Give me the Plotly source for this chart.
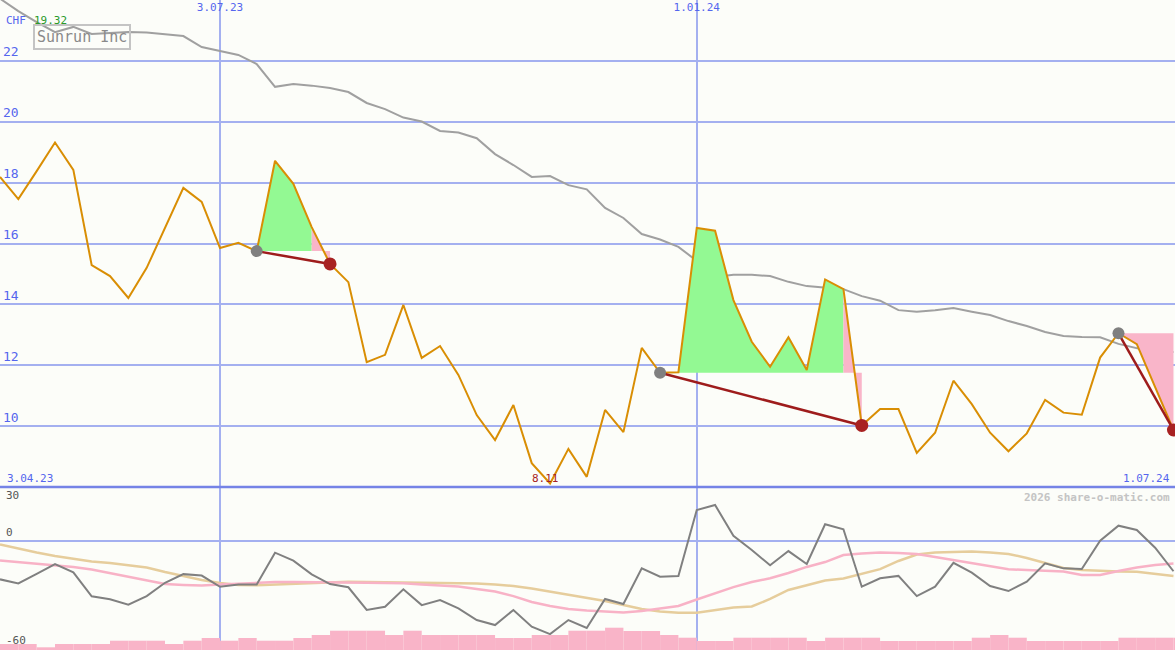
import pandas as pd
import plotly.graph_objects as go

# ---------------- data ----------------
start_date = "2023-04-10"
n_weeks = 65
dates = pd.date_range(start_date, periods=n_weeks, freq="7D")

price = [18.19, 17.46, 18.38, 19.32, 18.42, 15.29, 14.93, 14.21, 15.20, 16.54,
         17.83, 17.37, 15.85, 16.02, 15.75, 18.72, 17.96, 16.54, 15.33, 14.73,
         12.10, 12.34, 13.98, 12.24, 12.63, 11.68, 10.36, 9.54, 10.69, 8.78,
         8.11, 9.25, 8.33, 10.53, 9.80, 12.57, 11.75, 11.77, 16.51, 16.42,
         14.14, 12.77, 11.95, 12.92, 11.84, 14.82, 14.50, 10.02, 10.56, 10.56,
         9.12, 9.78, 11.49, 10.72, 9.78, 9.17, 9.76, 10.86, 10.44, 10.37,
         12.25, 13.05, 12.69, 11.28, 9.87]

moving_avg = [24.05, 23.64, 23.28, 22.95, 23.12, 22.89, 22.92, 22.95, 22.94, 22.87,
              22.82, 22.46, 22.33, 22.20, 21.90, 21.15, 21.24, 21.19, 21.11, 20.98,
              20.62, 20.42, 20.14, 20.01, 19.70, 19.65, 19.46, 18.94, 18.58, 18.19,
              18.22, 17.92, 17.78, 17.17, 16.84, 16.31, 16.13, 15.89, 15.43, 14.90,
              14.97, 14.97, 14.93, 14.74, 14.60, 14.54, 14.50, 14.27, 14.12, 13.81,
              13.76, 13.81, 13.88, 13.76, 13.65, 13.45, 13.29, 13.09, 12.96, 12.93,
              12.92, 12.70, 12.57, 12.42, 12.43]

momentum = [-21.3, -23.6, -18.3, -12.8, -17.4, -30.7, -32.4, -35.4, -30.6, -23.2,
            -18.4, -19.2, -25.4, -24.2, -24.2, -6.5, -10.9, -18.5, -23.9, -25.7,
            -38.3, -36.5, -26.8, -35.6, -32.8, -37.4, -43.9, -46.7, -38.3, -47.6,
            -51.7, -43.9, -48.3, -32.2, -35.0, -15.2, -19.8, -19.4, 17.2, 20.0,
            2.9, -5.0, -13.5, -5.6, -12.8, 9.3, 6.5, -25.4, -20.7, -19.4,
            -30.6, -25.4, -12.1, -17.6, -25.0, -27.8, -22.6, -12.4, -15.2, -15.6,
            0.2, 8.5, 6.1, -3.7, -16.8]

signal_pink = [-10.8, -11.6, -12.4, -13.3, -14.4, -15.8, -17.8, -20.0, -21.9, -23.9,
               -24.4, -24.7, -24.2, -23.6, -23.1, -22.8, -22.8, -22.8, -22.9, -23.1,
               -23.2, -23.3, -23.5, -24.2, -24.7, -25.3, -26.7, -28.1, -30.6, -33.9,
               -36.1, -37.8, -38.6, -39.2, -39.7, -38.9, -37.5, -36.1, -32.5, -28.9,
               -25.6, -22.8, -20.7, -17.8, -14.4, -11.7, -7.8, -6.9, -6.4, -6.6,
               -7.2, -8.9, -10.6, -12.5, -14.4, -15.7, -16.1, -16.4, -16.9, -18.9,
               -18.9, -16.7, -14.7, -13.3, -12.5]

signal_tan = [-1.9, -4.2, -6.4, -8.3, -10.0, -11.4, -12.2, -13.6, -14.7, -17.2,
              -19.4, -21.7, -23.3, -24.4, -24.6, -24.2, -23.6, -23.2, -22.9, -22.7,
              -22.8, -22.9, -22.9, -22.9, -23.1, -23.3, -23.6, -24.2, -25.0, -26.4,
              -28.1, -30.0, -31.7, -33.3, -35.6, -37.8, -39.2, -39.8, -39.8, -38.3,
              -36.9, -36.4, -32.2, -27.2, -24.4, -21.9, -20.8, -18.3, -15.6, -11.1,
              -7.5, -6.4, -6.1, -5.9, -6.4, -7.2, -9.4, -12.2, -15.0, -16.1,
              -16.7, -16.9, -17.1, -18.3, -19.4]

volume = [6, 6, 2.7, 6, 6, 6, 9.3, 9.3, 9.3, 6,
          9.3, 12, 9.3, 12, 9.3, 9.3, 12, 15, 19.3, 19.3,
          19.3, 15, 19.3, 15, 15, 15, 15, 12, 12, 15,
          15, 19.3, 19.3, 22.3, 19, 19, 15, 12.3, 9, 9,
          12.3, 12.3, 12.3, 12.3, 9, 12.3, 12.3, 12.3, 9, 9,
          9, 9, 9, 12.3, 15, 12.3, 9, 9, 9, 9,
          9, 12.3, 12.3, 12.3, 12.3]

entry_idx = [14, 36, 61]
exit_idx = [18, 47, 64]

price_ticks = [10, 12, 14, 16, 18, 20, 22]
date_ticks = ["2023-07-03", "2024-01-01"]
date_tick_text = ["3.07.23", "1.01.24"]
first_label, last_label = "3.04.23", "1.07.24"
osc_labels = ["30", "0", "-60"]
osc_label_vals = [30, 0, -60]
currency = "CHF"
company = "Sunrun Inc"
credit = "2026 share-o-matic.com"

# ---------------- style ----------------
W, H = 1175, 650
BG = "#fcfdf9"
GRID = "#a4b0f0"
BLUE_TXT = "#5566ee"
ORANGE = "#d98e04"
MAIN_BOTTOM = 163 / 650  # main panel domain start
FONT = "DejaVu Sans Mono"

fig = go.Figure()

# moving average (grey)
fig.add_trace(go.Scatter(x=dates, y=moving_avg, mode="lines",
                         line=dict(color="#a0a0a0", width=2), xaxis="x", yaxis="y"))

# signal fills
for e, x_ in zip(entry_idx, exit_idx):
    base = price[e]
    segs = []
    for k in range(e, x_):
        col = "green" if price[k + 1] >= base else "pink"
        if segs and segs[-1][0] == col:
            segs[-1][2] = k + 1
        else:
            segs.append([col, k, k + 1])
    for col, a, b in segs:
        xs = [dates[a]] + list(dates[a:b + 1]) + [dates[b]]
        ys = [base] + price[a:b + 1] + [base]
        fig.add_trace(go.Scatter(x=xs, y=ys, mode="lines", fill="toself",
                                 fillcolor="#93f993" if col == "green" else "#f9b5c9",
                                 line=dict(width=0), xaxis="x", yaxis="y"))

# price line
fig.add_trace(go.Scatter(x=dates, y=price, mode="lines",
                         line=dict(color=ORANGE, width=2), xaxis="x", yaxis="y"))

# entry/exit connectors and dots
for e, x_ in zip(entry_idx, exit_idx):
    fig.add_trace(go.Scatter(x=[dates[e], dates[x_]], y=[price[e], price[x_]],
                             mode="lines", line=dict(color="#9e1c1c", width=2.5),
                             xaxis="x", yaxis="y"))
    fig.add_trace(go.Scatter(x=[dates[e]], y=[price[e]], mode="markers",
                             marker=dict(color="#808080", size=12),
                             xaxis="x", yaxis="y"))
    fig.add_trace(go.Scatter(x=[dates[x_]], y=[price[x_]], mode="markers",
                             marker=dict(color="#a82222", size=13),
                             xaxis="x", yaxis="y"))

# volume bars (bottom panel)
fig.add_trace(go.Bar(x=dates, y=volume, offset=0, width=7 * 24 * 3600 * 1000,
                     marker=dict(color="#f9b4c8", line=dict(width=0)),
                     xaxis="x2", yaxis="y3"))

# oscillator lines
fig.add_trace(go.Scatter(x=dates, y=signal_tan, mode="lines",
                         line=dict(color="#e6cd9c", width=2.5), xaxis="x2", yaxis="y2"))
fig.add_trace(go.Scatter(x=dates, y=signal_pink, mode="lines",
                         line=dict(color="#f8b2c6", width=2.5), xaxis="x2", yaxis="y2"))
fig.add_trace(go.Scatter(x=dates, y=momentum, mode="lines",
                         line=dict(color="#808080", width=2), xaxis="x2", yaxis="y2"))

x_range = ["2023-04-10", "2024-07-01 14:00"]

fig.update_layout(
    width=W, height=H, margin=dict(l=0, r=0, t=0, b=0),
    paper_bgcolor=BG, plot_bgcolor=BG, showlegend=False, hovermode=False,
    xaxis=dict(domain=[0, 1], anchor="y", range=x_range, side="top",
               tickvals=date_ticks, ticktext=date_tick_text, ticklabelposition="inside",
               tickfont=dict(family=FONT, size=11, color=BLUE_TXT), ticks="",
               showgrid=True, gridcolor=GRID, gridwidth=1.5, zeroline=False, showline=False),
    xaxis2=dict(domain=[0, 1], anchor="y2", range=x_range, matches="x",
                tickvals=date_ticks, showticklabels=False, ticks="",
                showgrid=True, gridcolor=GRID, gridwidth=1.5, zeroline=False, showline=False),
    yaxis=dict(domain=[MAIN_BOTTOM, 1], range=[7.996, 24.005], tickvals=price_ticks,
               ticklabelposition="inside top", ticks="",
               tickfont=dict(family=FONT, size=13, color=BLUE_TXT),
               showgrid=True, gridcolor=GRID, gridwidth=2, zeroline=False, showline=False),
    yaxis2=dict(domain=[0, MAIN_BOTTOM], range=[-60.55, 30], tickvals=[0],
                showticklabels=False, ticks="", showgrid=True, gridcolor=GRID, gridwidth=2,
                zeroline=False, showline=False),
    yaxis3=dict(domain=[0, MAIN_BOTTOM], range=[0, 163], overlaying="y2",
                visible=False),
    shapes=[dict(type="line", xref="paper", yref="paper", x0=0, x1=1,
                 y0=MAIN_BOTTOM, y1=MAIN_BOTTOM, line=dict(color="#7583e6", width=2.5))],
)

ann = []
ann.append(dict(text=currency, xref="paper", yref="paper", x=4 / W, y=1 - 20 / H,
                xanchor="left", yanchor="middle", showarrow=False,
                font=dict(family=FONT, size=11, color=BLUE_TXT)))
ann.append(dict(text=f"{max(price):.2f}", xref="paper", yref="paper", x=32 / W, y=1 - 20 / H,
                xanchor="left", yanchor="middle", showarrow=False,
                font=dict(family=FONT, size=11, color="#2a9a2a")))
ann.append(dict(text=company, xref="paper", yref="paper", x=33 / W, y=1 - 24 / H,
                xanchor="left", yanchor="top", showarrow=False,
                bordercolor="#c4c4c4", borderwidth=2, borderpad=2,
                font=dict(family=FONT, size=15, color="#8a8a8a")))
imin = price.index(min(price))
ann.append(dict(text=f"{min(price):.2f}", xref="x", yref="y", x=dates[imin], y=8.0,
                xanchor="center", yanchor="bottom", xshift=-5, showarrow=False,
                font=dict(family=FONT, size=11, color="#a82222")))
ann.append(dict(text=first_label, xref="paper", yref="paper", x=5 / W, y=MAIN_BOTTOM,
                xanchor="left", yanchor="bottom", showarrow=False,
                font=dict(family=FONT, size=11, color=BLUE_TXT)))
ann.append(dict(text=last_label, xref="paper", yref="paper", x=1 - 3 / W, y=MAIN_BOTTOM,
                xanchor="right", yanchor="bottom", showarrow=False,
                font=dict(family=FONT, size=11, color=BLUE_TXT)))
ann.append(dict(text=f"<b>{credit}</b>", xref="paper", yref="paper", x=1 - 3 / W,
                y=MAIN_BOTTOM - 2 / H, xanchor="right", yanchor="top", showarrow=False,
                font=dict(family=FONT, size=11, color="#c4c4c4")))
for lab, v in zip(osc_labels, osc_label_vals):
    ann.append(dict(text=lab, xref="paper", yref="y2", x=4 / W, y=v,
                    xanchor="left", yanchor="top" if v == max(osc_label_vals) else "bottom",
                    showarrow=False, font=dict(family=FONT, size=11, color="#555555")))
fig.update_layout(annotations=ann)

fig.write_html("out.html", config={"displayModeBar": False, "staticPlot": True},
               post_script="document.body.style.margin='0';document.body.style.overflow='hidden';")
